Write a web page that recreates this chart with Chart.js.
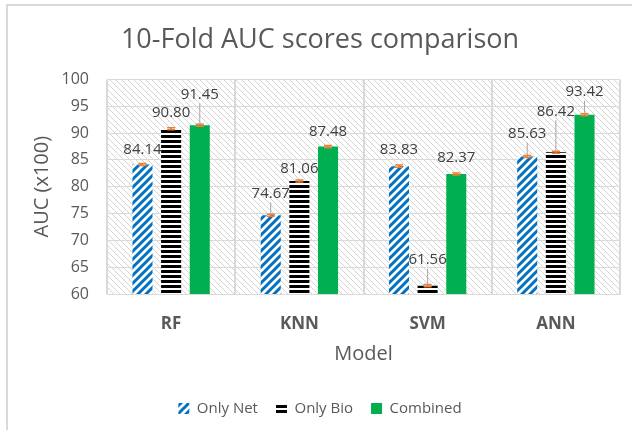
<!DOCTYPE html>
<html>
<head>
<meta charset="utf-8">
<script src="https://cdn.jsdelivr.net/npm/chart.js@4.4.1/dist/chart.umd.min.js"></script>
<style>
html, body { margin: 0; padding: 0; background: #fff; }
#wrap { width: 632px; height: 430px; }
</style>
</head>
<body>
<div id="wrap"><canvas id="aucChart" width="632" height="430"></canvas></div>
<script>
// categories on the x axis
var models = ['RF', 'KNN', 'SVM', 'ANN'];
var seriesNames = ['Only Net', 'Only Bio', 'Combined'];

// 10-fold AUC (x100) per model
var onlyNet = [84.14, 74.67, 83.83, 85.63];
var onlyBio = [90.80, 81.06, 61.56, 86.42];
var combined = [91.45, 87.48, 82.37, 93.42];

// tiny error whiskers (orange)
var errNet = [0.2, 0.2, 0.2, 0.2];
var errBio = [0.2, 0.2, 0.2, 0.2];
var errComb = [0.2, 0.2, 0.2, 0.2];

// y axis ticks
var yTicks = [60, 65, 70, 75, 80, 85, 90, 95, 100];

// how far (px) each data label sits above its bar, like the hand-moved excel labels
var labelLift = [
    [15, 22, 16, 23],
    [16, 12, 26, 41],
    [31, 15, 16, 23]
];

var FONT = "'Open Sans', 'Noto Sans', sans-serif";
var GREY = '#595959';

// patterns
function makePattern(w, h, draw) {
    var c = document.createElement('canvas');
    c.width = w;
    c.height = h;
    var g = c.getContext('2d');
    draw(g);
    return g.createPattern(c, 'repeat');
}

var ctx = document.getElementById('aucChart').getContext('2d');

var bluePattern = makePattern(8, 8, function(g) {
    g.fillStyle = '#fff';
    g.fillRect(0, 0, 8, 8);
    g.strokeStyle = '#0070C0';
    g.lineWidth = 3;
    g.beginPath();
    g.moveTo(-1, 9); g.lineTo(9, -1);
    g.moveTo(-5, 5); g.lineTo(5, -5);
    g.moveTo(3, 13); g.lineTo(13, 3);
    g.stroke();
});

var blackPattern = makePattern(4, 5, function(g) {
    g.fillStyle = '#fff';
    g.fillRect(0, 0, 4, 5);
    g.fillStyle = '#000';
    g.fillRect(0, 0, 4, 3);
});

var hatchPattern = makePattern(6, 6, function(g) {
    g.fillStyle = '#fff';
    g.fillRect(0, 0, 6, 6);
    g.strokeStyle = '#d4d4d4';
    g.lineWidth = 1;
    g.beginPath();
    g.moveTo(-1, -1); g.lineTo(7, 7);
    g.moveTo(-4, 2); g.lineTo(4, 10);
    g.moveTo(2, -4); g.lineTo(10, 4);
    g.stroke();
});

var errors = [errNet, errBio, errComb];

// hatch behind the plot + outer frame
var backgroundPlugin = {
    id: 'backgroundHatch',
    beforeDraw: function(chart) {
        var c = chart.ctx, a = chart.chartArea;
        c.save();
        c.fillStyle = hatchPattern;
        c.fillRect(a.left, a.top, a.right - a.left, a.bottom - a.top);
        c.strokeStyle = '#d9d9d9';
        c.lineWidth = 2;
        c.beginPath();
        c.moveTo(7, 430);
        c.lineTo(7, 5);
        c.lineTo(632, 5);
        c.stroke();
        c.restore();
    }
};

// error whiskers and data labels
var labelPlugin = {
    id: 'barLabels',
    afterDatasetsDraw: function(chart) {
        var c = chart.ctx;
        var y = chart.scales.y;
        c.save();
        chart.data.datasets.forEach(function(ds, i) {
            var meta = chart.getDatasetMeta(i);
            meta.data.forEach(function(bar, j) {
                var v = ds.data[j];
                var e = errors[i][j];
                var y1 = y.getPixelForValue(v + e);
                var y2 = y.getPixelForValue(v - e);
                c.strokeStyle = '#ED7D31';
                c.lineWidth = 1.5;
                c.beginPath();
                c.moveTo(bar.x - 4, y1); c.lineTo(bar.x + 4, y1);
                c.moveTo(bar.x - 4, y2); c.lineTo(bar.x + 4, y2);
                c.moveTo(bar.x, y1); c.lineTo(bar.x, y2);
                c.stroke();

                var lift = labelLift[i][j];
                var ly = bar.y - lift;
                if (lift > 20) {
                    c.strokeStyle = '#a6a6a6';
                    c.lineWidth = 1;
                    c.beginPath();
                    c.moveTo(bar.x, ly + 9);
                    c.lineTo(bar.x, bar.y - 1);
                    c.stroke();
                }
                c.fillStyle = '#404040';
                c.font = '15px ' + FONT;
                c.textAlign = 'center';
                c.textBaseline = 'middle';
                c.fillText(v.toFixed(2), bar.x, ly);
            });
        });
        c.restore();
    }
};

var chart = new Chart(ctx, {
    type: 'bar',
    data: {
        labels: models,
        datasets: [
            { label: seriesNames[0], data: onlyNet, backgroundColor: bluePattern },
            { label: seriesNames[1], data: onlyBio, backgroundColor: blackPattern },
            { label: seriesNames[2], data: combined, backgroundColor: '#00B050' }
        ]
    },
    options: {
        responsive: false,
        animation: false,
        layout: { padding: { left: 8, right: 0, top: 0, bottom: 4 } },
        datasets: {
            bar: { categoryPercentage: 0.67, barPercentage: 0.7, borderWidth: 0 }
        },
        plugins: {
            title: {
                display: true,
                text: '10-Fold AUC scores comparison',
                color: GREY,
                font: { family: FONT, size: 27, weight: 'normal' },
                padding: { top: 24, bottom: 23 }
            },
            legend: {
                position: 'bottom',
                labels: {
                    color: GREY,
                    font: { family: FONT, size: 15 },
                    boxWidth: 11,
                    boxHeight: 11,
                    padding: 18
                }
            },
            tooltip: { enabled: false }
        },
        scales: {
            x: {
                grid: { color: '#d9d9d9', lineWidth: 2, drawTicks: false },
                border: { color: '#d9d9d9' },
                ticks: { color: GREY, font: { family: FONT, size: 17, weight: 'bold' }, padding: 20 },
                title: {
                    display: true,
                    text: 'Model',
                    color: GREY,
                    font: { family: FONT, size: 20 },
                    padding: { top: 0, bottom: 17 }
                },
                afterFit: function(scale) { scale.height = 89; }
            },
            y: {
                min: 60,
                max: 100,
                afterBuildTicks: function(scale) {
                    scale.ticks = yTicks.map(function(v) { return { value: v }; });
                },
                grid: { color: '#d9d9d9', lineWidth: 1, drawTicks: false },
                border: { display: false },
                ticks: { color: GREY, font: { family: FONT, size: 16 }, padding: 18 },
                title: {
                    display: true,
                    text: 'AUC (x100)',
                    color: GREY,
                    font: { family: FONT, size: 20 },
                    padding: { top: 22, bottom: 0 }
                },
                afterFit: function(scale) { scale.width = 99; }
            },
            // empty strip on the right so title/legend centre like the excel chart
            spacer: {
                type: 'linear',
                position: 'right',
                grid: { display: false, drawTicks: false },
                border: { display: false },
                ticks: { display: false },
                afterFit: function(scale) { scale.width = 12; }
            }
        }
    },
    plugins: [backgroundPlugin, labelPlugin]
});
</script>
</body>
</html>
